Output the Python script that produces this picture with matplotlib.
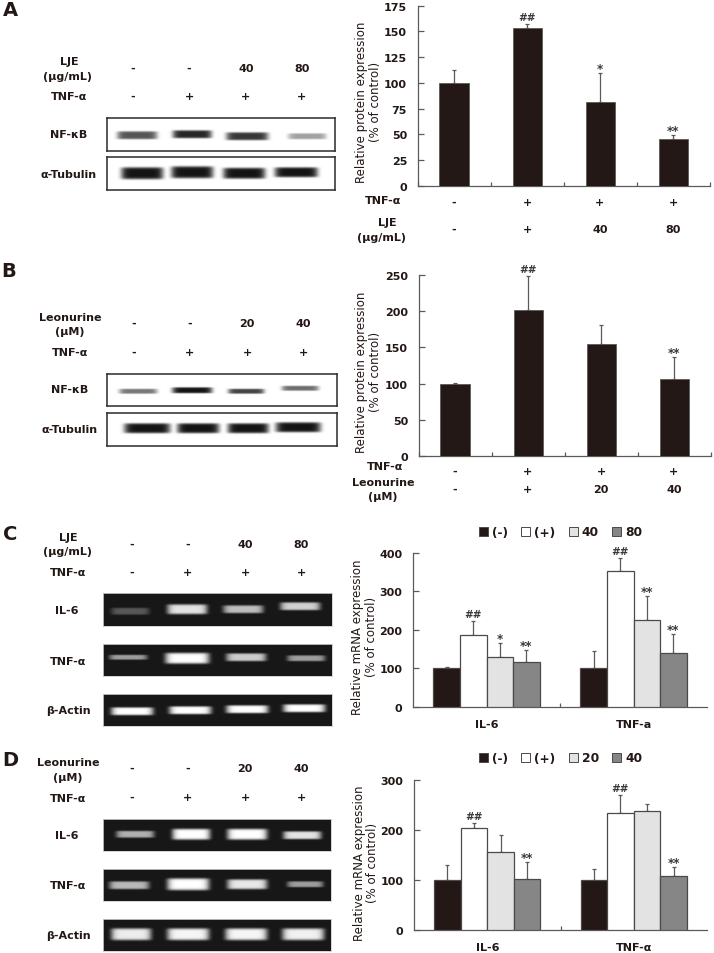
import numpy as np
import matplotlib
matplotlib.use("Agg")
import matplotlib.pyplot as plt
from matplotlib.patches import Patch

W, H = 714, 954
INK = "#231815"
AXC = "#5a5a5a"
plt.rcParams['font.family'] = ['DejaVu Sans']

# ---- bar chart data
groups_a = ["-", "+", "+", "+"]
lje_a = ["-", "+", "40", "80"]
vals_a = [100, 153.5, 82, 46]
tops_a = [112.5, 157, 110, 49.5]
sig_a = ["", "##", "*", "**"]

groups_b = ["-", "+", "+", "+"]
leo_b = ["-", "+", "20", "40"]
vals_b = [99, 202, 155, 106]
tops_b = [101, 249, 181, 137]
sig_b = ["", "##", "", "**"]

cats_c = ["IL-6", "TNF-a"]
legend_c = ["(-)", "(+)", "40", "80"]
vals_c = [[100, 186, 129, 117], [100, 352, 226, 139]]
tops_c = [[104, 222, 167, 148], [144, 387, 288, 190]]
sig_c = [["", "##", "*", "**"], ["", "##", "**", "**"]]

cats_d = ["IL-6", "TNF-α"]
legend_d = ["(-)", "(+)", "20", "40"]
vals_d = [[100, 205, 157, 103], [100, 235, 238, 108]]
tops_d = [[130, 214, 190, 136], [122, 271, 252, 126]]
sig_d = [["", "##", "", "**"], ["", "##", "", "**"]]

# ---- blot band strengths (0-1)
nf_a = [0.72, 0.92, 0.85, 0.40]
tub_a = [1.0, 1.0, 1.0, 1.0]
nf_b = [0.58, 1.0, 0.80, 0.62]
tub_b = [1.0, 1.0, 1.0, 1.0]
il6_c = [0.28, 0.88, 0.72, 0.80]
tnf_c = [0.58, 1.0, 0.78, 0.58]
act_c = [1.0, 1.0, 1.0, 1.0]
il6_d = [0.66, 1.0, 1.0, 0.88]
tnf_d = [0.70, 1.0, 0.90, 0.58]
act_d = [0.92, 0.96, 0.96, 0.94]

fig = plt.figure(figsize=(W / 100, H / 100), dpi=100, facecolor="white")


def fx(x):
    return x / W


def fy(y):
    return 1 - y / H


def axes_px(l, t, r, b):
    return fig.add_axes([fx(l), fy(b), (r - l) / W, (b - t) / H])


def txt(x, y, s, size=8, weight="bold", color=INK, **kw):
    kw.setdefault("ha", "center")
    kw.setdefault("va", "center")
    fig.text(fx(x), fy(y), s, fontsize=size, fontweight=weight, color=color, **kw)


def style(ax, ymax, yticks, ylabel, label_xy):
    ax.set_ylim(0, ymax)
    ax.set_yticks(yticks)
    for s in ("top", "right"):
        ax.spines[s].set_visible(False)
    for s in ("left", "bottom"):
        ax.spines[s].set_color(AXC)
        ax.spines[s].set_linewidth(0.9)
    ax.tick_params(axis="y", direction="in", length=4, width=0.9, color=AXC,
                   labelsize=8, labelcolor=INK, pad=7.5)
    for t in ax.get_yticklabels():
        t.set_fontweight("bold")
    ax.set_ylabel(ylabel, fontsize=8.5, color=INK, linespacing=1.05)
    ax.yaxis.set_label_coords(fx(label_xy[0]), fy(label_xy[1]), transform=fig.transFigure)


def sig_mark(ax, x, top, s):
    if not s:
        return
    if s.startswith("#"):
        ax.annotate(s, (x, top), xytext=(0, 5.0), textcoords="offset points", ha="center",
                    va="center", fontsize=7.5, fontweight="bold", color="#3a3a3a")
    else:
        ax.annotate(s, (x, top), xytext=(0, 0.6), textcoords="offset points", ha="center",
                    va="baseline", fontsize=8.5, fontweight="bold", color="#3a3a3a")


def simple_bars(box, vals, tops, sig, ymax, yticks, label_xy):
    ax = axes_px(*box)
    xs = np.arange(len(vals))
    ax.bar(xs, vals, width=0.4, color=INK, edgecolor=AXC, linewidth=0.6, zorder=3)
    errs = [t - v for t, v in zip(tops, vals)]
    ax.errorbar(xs, vals, yerr=[[0] * len(vals), errs], fmt="none", ecolor=AXC,
                elinewidth=0.9, capsize=1.6, capthick=0.9, zorder=2)
    ax.set_xlim(-0.5, len(vals) - 0.5)
    ax.set_xticks(np.arange(len(vals) + 1) - 0.5)
    ax.tick_params(axis="x", direction="in", length=3, width=0.9, color=AXC, labelbottom=False)
    style(ax, ymax, yticks, "Relative protein expression\n(% of control)", label_xy)
    for x, t, s in zip(xs, tops, sig):
        sig_mark(ax, x, t, s)
    return ax


def group_bars(box, vals, tops, sig, cats, names, ymax, yticks, label_xy, leg_y, leg_x):
    ax = axes_px(*box)
    cols = [INK, "white", "#e3e3e3", "#868686"]
    wd = 0.181
    hs = []
    for j in range(4):
        xs = np.arange(len(cats)) + (j - 1.5) * wd
        v = [row[j] for row in vals]
        t = [row[j] for row in tops]
        ax.bar(xs, v, width=wd, color=cols[j], edgecolor="#4a4a4a", linewidth=0.9, zorder=3)
        ax.errorbar(xs, v, yerr=[[0] * len(v), [a - b for a, b in zip(t, v)]], fmt="none",
                    ecolor=AXC, elinewidth=0.9, capsize=1.6, capthick=0.9, zorder=2)
        for x, tp, row in zip(xs, t, sig):
            sig_mark(ax, x, tp, row[j])
        hs.append(Patch(facecolor=cols[j], edgecolor="#4a4a4a", linewidth=0.7))
    ax.set_xlim(-0.5, len(cats) - 0.5)
    ax.set_xticks([0.5], labels=[""])
    ax.set_xticks(np.arange(len(cats)), labels=cats, minor=True)
    ax.tick_params(axis="x", which="major", direction="in", length=3, width=0.9, color=AXC)
    ax.tick_params(axis="x", which="minor", length=0, pad=9, labelsize=8, labelcolor=INK)
    for t in ax.get_xticklabels(minor=True):
        t.set_fontweight("bold")
    style(ax, ymax, yticks, "Relative mRNA expression\n(% of control)", label_xy)
    fig.legend(hs, names, loc="center left", bbox_to_anchor=(fx(leg_x), fy(leg_y)), ncol=4,
               frameon=False, handlelength=0.75, handleheight=0.75, handletextpad=0.3,
               columnspacing=1.1, borderpad=0, borderaxespad=0,
               prop={"size": 8.8, "weight": "bold"}, labelcolor=INK)
    return ax


def blot(box, strengths, xs, ys, widths, thicks, gel):
    l, t, r, b = box
    ax = axes_px(l, t, r, b)
    yy, xx = np.mgrid[t:b:0.5, l:r:0.5]
    img = np.zeros_like(xx, dtype=float)
    for s, cx, cy, w, th in zip(strengths, xs, ys, widths, thicks):
        img = np.maximum(img, s * np.exp(-((xx - cx) / (w / 2)) ** 8 - ((yy - cy) / (th / 2)) ** 6))
    if gel:
        shade = 0.09 + 0.91 * img
    else:
        shade = 1 - 0.92 * img
    ax.imshow(shade, cmap="gray", vmin=0, vmax=1, extent=(l, r, b, t), aspect="auto",
              interpolation="bilinear")
    ax.set_xticks([])
    ax.set_yticks([])
    for sp in ax.spines.values():
        sp.set_color("#cfcfcf" if gel else "#2a2a2a")
        sp.set_linewidth(0.6 if gel else 1.1)


# ---- Panel A
txt(10, 10, "A", size=14)
for x, a, c in zip([133, 189, 246, 302], ["-", "-", "40", "80"], ["-", "+", "+", "+"]):
    txt(x, 69, a)
    txt(x, 97, c)
txt(69, 62, "LJE")
txt(68, 77, "(µg/mL)")
txt(69, 97, "TNF-α")
txt(69, 135, "NF-κB")
txt(69, 175, "α-Tubulin")
blot((107, 119, 335, 152), nf_a, [137, 192, 247, 307], [136, 135, 137, 137], [40, 39, 42, 38], [8, 8, 8, 6], False)
blot((107, 158, 335, 191), tub_a, [142, 192, 244, 296], [174, 173, 174, 173], [42, 42, 42, 43], [12, 12, 11, 10], False)
simple_bars((417.5, 6.7, 710, 187), vals_a, tops_a, sig_a, 175, range(0, 176, 25), (382, 102))
txt(383, 201, "TNF-α")
txt(387, 223, "LJE")
txt(382, 238, "(µg/mL)")
for x, a, b in zip([454, 527, 600, 673], groups_a, lje_a):
    txt(x, 203, a)
    txt(x, 230, b)

# ---- Panel B
txt(9, 272, "B", size=14)
for x, a, c in zip([134, 190, 247, 303], ["-", "-", "20", "40"], ["-", "+", "+", "+"]):
    txt(x, 324, a)
    txt(x, 353, c)
txt(70, 318, "Leonurine")
txt(70, 332, "(µM)")
txt(70, 353, "TNF-α")
txt(70, 390, "NF-κB")
txt(70, 430, "α-Tubulin")
blot((107, 375, 337, 407), nf_b, [138, 192, 246, 300], [392, 391, 392, 389], [38, 40, 36, 37], [5, 6, 5, 5], False)
blot((107, 414, 337, 447), tub_b, [147, 198, 248, 298], [429, 429, 429, 428], [46, 42, 41, 45], [10, 10, 10, 10], False)
simple_bars((418.5, 276, 711, 457), vals_b, tops_b, sig_b, 250, range(0, 251, 50), (382, 372))
txt(385, 467, "TNF-α")
txt(383, 483, "Leonurine")
txt(383, 497, "(µM)")
for x, a, b in zip([455, 528, 601, 674], groups_b, leo_b):
    txt(x, 472, a)
    txt(x, 490, b)

# ---- Panel C
txt(10, 534, "C", size=14)
for x, a, c in zip([132, 188, 245, 301], ["-", "-", "40", "80"], ["-", "+", "+", "+"]):
    txt(x, 545, a)
    txt(x, 573, c)
txt(68, 538, "LJE")
txt(68, 552, "(µg/mL)")
txt(68, 573, "TNF-α")
txt(67, 611, "IL-6")
txt(68, 662, "TNF-α")
txt(68, 711, "β-Actin")
blot((103, 594, 332, 627), il6_c, [130, 187, 243, 300], [612, 610, 610, 607], [38, 40, 40, 40], [7, 10, 8, 8], True)
blot((103, 645, 332, 677), tnf_c, [128, 187, 246, 306], [658, 659, 658, 659], [38, 44, 40, 38], [5, 11, 8, 6], True)
blot((103, 695, 332, 727), act_c, [132, 190, 247, 304], [712, 711, 710, 709], [42, 42, 42, 42], [8, 8, 8, 8], True)
group_bars((413, 554, 707, 707.7), vals_c, tops_c, sig_c, cats_c, legend_c, 400,
           range(0, 401, 100), (378, 637), 533, 479)

# ---- Panel D
txt(10, 761, "D", size=14)
for x, a, c in zip([132, 188, 245, 301], ["-", "-", "20", "40"], ["-", "+", "+", "+"]):
    txt(x, 769, a)
    txt(x, 798, c)
txt(68, 763, "Leonurine")
txt(68, 778, "(µM)")
txt(68, 799, "TNF-α")
txt(67, 836, "IL-6")
txt(68, 886, "TNF-α")
txt(68, 936, "β-Actin")
blot((103, 820, 331, 852), il6_d, [135, 191, 247, 302], [835, 835, 835, 836], [38, 38, 40, 38], [7, 11, 11, 8], True)
blot((103, 870, 331, 902), tnf_d, [129, 188, 247, 305], [886, 885, 885, 885], [40, 42, 40, 36], [8, 12, 10, 6], True)
blot((103, 920, 331, 952), act_d, [131, 188, 246, 303], [935, 935, 935, 935], [40, 42, 42, 42], [12, 12, 12, 12], True)
group_bars((414, 781, 707, 931), vals_d, tops_d, sig_d, cats_d, legend_d, 300,
           range(0, 301, 100), (379, 863), 759, 479)

fig.savefig("out.png", dpi=100, facecolor="white")
